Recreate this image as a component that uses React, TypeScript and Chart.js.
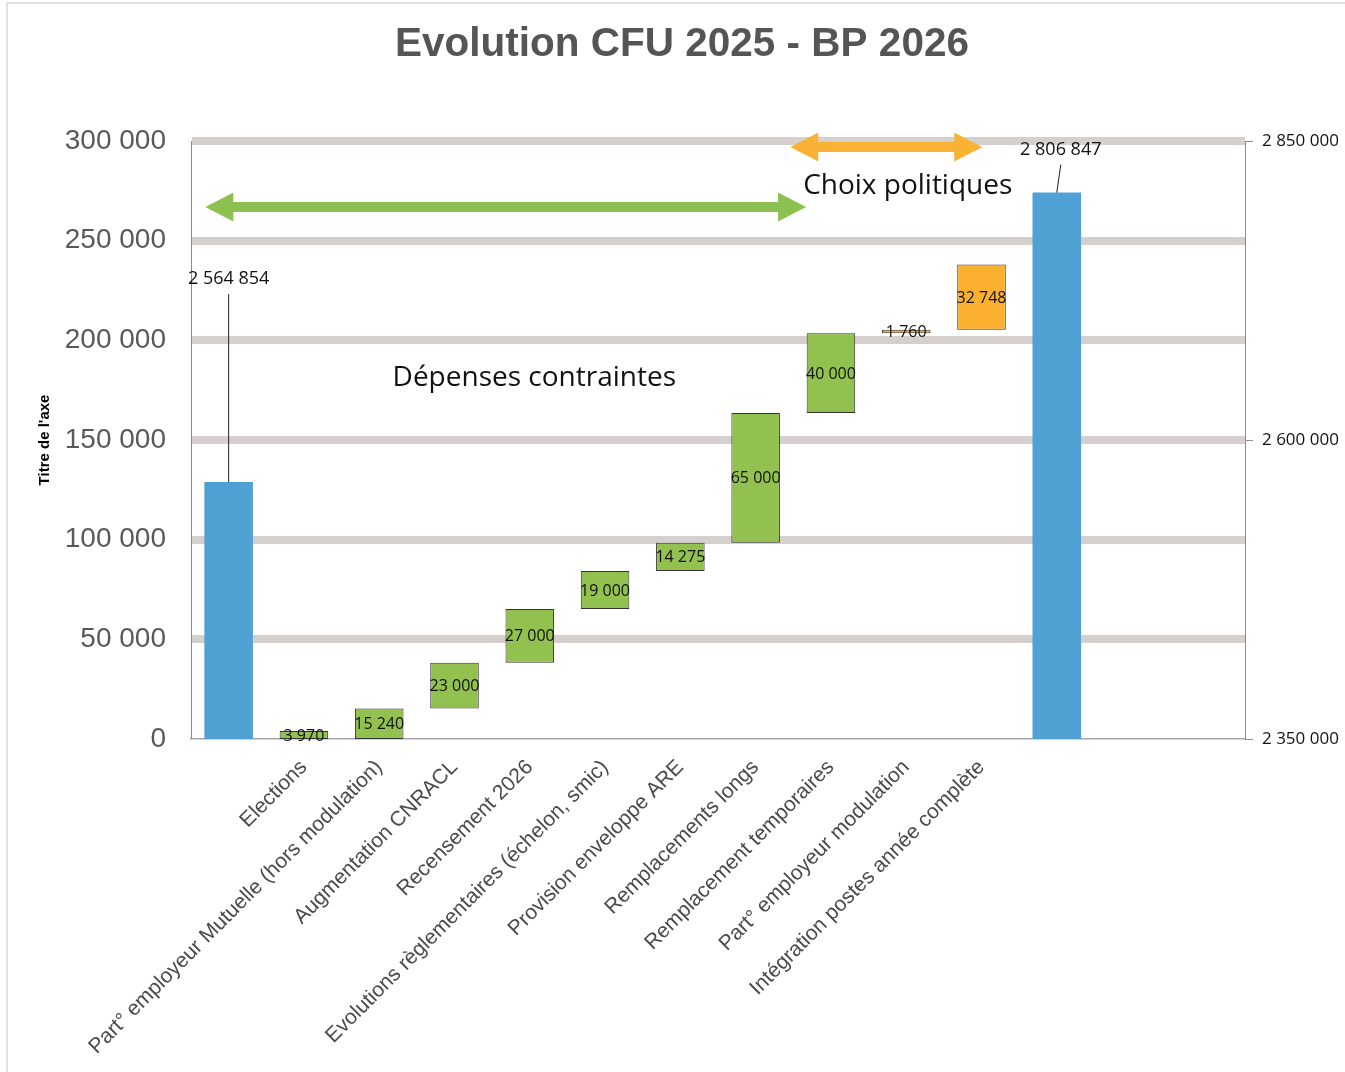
import React, { useEffect, useRef } from 'react';
import { Chart, registerables } from 'chart.js';

Chart.register(...registerables);

const chartTitle = 'Evolution CFU 2025 - BP 2026';
const axisTitle = "Titre de l'axe";

const categories = [
  '',
  'Elections',
  'Part° employeur Mutuelle (hors modulation)',
  'Augmentation CNRACL',
  'Recensement 2026',
  'Evolutions règlementaires (échelon, smic)',
  'Provision enveloppe ARE',
  'Remplacements longs',
  'Remplacement temporaires',
  'Part° employeur modulation',
  'Intégration postes année complète',
  '',
  '',
  '',
];

// Totals (blue bars, right axis)
const totalIndices = [0, 11];
const totalValues = [2564854, 2806847];

// Steps (floating bars, left axis)
const stepFirstIndex = 1;
const stepValues = [3970, 15240, 23000, 27000, 19000, 14275, 65000, 40000, 1760, 32748];
const stepInRunningTotal = [false, true, true, true, true, true, true, true, true, true];
const stepGroups = ['contraintes', 'contraintes', 'contraintes', 'contraintes', 'contraintes', 'contraintes', 'contraintes', 'contraintes', 'choix', 'choix'];

const leftMin = 0;
const leftMax = 300000;
const leftStep = 50000;
const rightMin = 2350000;
const rightMax = 2850000;
const rightStep = 250000;

const annotationTexts = ['Dépenses contraintes', 'Choix politiques'];

const COLORS = {
  blue: '#4FA0D3',
  green: '#92C150',
  orange: '#FBB12F',
  arrowGreen: '#8CC152',
  arrowOrange: '#F9B233',
  grid: '#D5D0CD',
  axis: '#A6A6A6',
  text: '#595959',
};

const fmt = (n: number) => String(Math.round(n)).replace(/\B(?=(\d{3})+(?!\d))/g, ' ');

function buildTotals() {
  const arr: (number | null)[] = categories.map(() => null);
  totalIndices.forEach((idx, i) => {
    arr[idx] = totalValues[i];
  });
  return arr;
}

function buildSteps() {
  const arr: ([number, number] | null)[] = categories.map(() => null);
  let running = 0;
  stepValues.forEach((v, i) => {
    const start = stepInRunningTotal[i] ? running : 0;
    arr[stepFirstIndex + i] = [start, start + v];
    if (stepInRunningTotal[i]) running += v;
  });
  return arr;
}

function drawDoubleArrow(ctx: CanvasRenderingContext2D, x1: number, x2: number, y: number, color: string) {
  const shaft = 5;
  const headLen = 28;
  const headHalf = 14.5;
  ctx.save();
  ctx.fillStyle = color;
  ctx.beginPath();
  ctx.moveTo(x1, y);
  ctx.lineTo(x1 + headLen, y - headHalf);
  ctx.lineTo(x1 + headLen, y - shaft);
  ctx.lineTo(x2 - headLen, y - shaft);
  ctx.lineTo(x2 - headLen, y - headHalf);
  ctx.lineTo(x2, y);
  ctx.lineTo(x2 - headLen, y + headHalf);
  ctx.lineTo(x2 - headLen, y + shaft);
  ctx.lineTo(x1 + headLen, y + shaft);
  ctx.lineTo(x1 + headLen, y + headHalf);
  ctx.closePath();
  ctx.fill();
  ctx.restore();
}

const overlayPlugin = {
  id: 'overlay',
  beforeDraw(chart: any) {
    const { ctx, width, height } = chart;
    ctx.save();
    ctx.fillStyle = '#ffffff';
    ctx.fillRect(0, 0, width, height);
    ctx.strokeStyle = '#E2E2E2';
    ctx.lineWidth = 2;
    ctx.beginPath();
    ctx.moveTo(7, height);
    ctx.lineTo(7, 3);
    ctx.lineTo(width, 3);
    ctx.stroke();
    ctx.restore();
  },
  afterDatasetsDraw(chart: any) {
    const { ctx } = chart;
    const xs = chart.scales.x;
    const ys = chart.scales.y;

    // Step labels
    const stepMeta = chart.getDatasetMeta(1);
    ctx.save();
    ctx.font = '16px "Open Sans"';
    ctx.fillStyle = '#111111';
    ctx.textAlign = 'center';
    ctx.textBaseline = 'middle';
    stepValues.forEach((v, i) => {
      const el = stepMeta.data[stepFirstIndex + i];
      if (!el) return;
      const cy = (el.y + el.base) / 2;
      ctx.fillText(fmt(v), el.x, cy + 1);
    });
    ctx.restore();

    // Total labels with leader lines
    const totMeta = chart.getDatasetMeta(0);
    const labelLift = [203, 43];
    const labelShift = [0, 4];
    ctx.save();
    ctx.font = '18px "Open Sans"';
    ctx.fillStyle = '#111111';
    ctx.textAlign = 'center';
    ctx.textBaseline = 'middle';
    ctx.strokeStyle = '#222222';
    ctx.lineWidth = 1;
    totalIndices.forEach((idx, i) => {
      const el = totMeta.data[idx];
      if (!el) return;
      const lx = el.x + labelShift[i];
      const ly = el.y - labelLift[i];
      ctx.fillText(fmt(totalValues[i]), lx, ly);
      ctx.beginPath();
      ctx.moveTo(lx, ly + 15);
      ctx.lineTo(el.x, el.y);
      ctx.stroke();
    });
    ctx.restore();

    // Arrows
    drawDoubleArrow(ctx, xs.getPixelForValue(-0.31), xs.getPixelForValue(7.67), ys.getPixelForValue(266900), COLORS.arrowGreen);
    drawDoubleArrow(ctx, xs.getPixelForValue(7.46), xs.getPixelForValue(10.01), ys.getPixelForValue(297000), COLORS.arrowOrange);

    // Annotation texts
    ctx.save();
    ctx.font = '28px "Open Sans"';
    ctx.fillStyle = '#111111';
    ctx.textAlign = 'center';
    ctx.textBaseline = 'middle';
    ctx.fillText(annotationTexts[0], xs.getPixelForValue(4.06), ys.getPixelForValue(181100));
    ctx.fillText(annotationTexts[1], xs.getPixelForValue(9.02), ys.getPixelForValue(277400));
    ctx.restore();

    // Title
    ctx.save();
    ctx.font = 'bold 40.5px "Liberation Sans", Arial, sans-serif';
    ctx.fillStyle = '#555555';
    ctx.textAlign = 'center';
    ctx.textBaseline = 'alphabetic';
    ctx.fillText(chartTitle, 682, 56);
    ctx.restore();
  },
};

export default function App() {
  const canvasRef = useRef<HTMLCanvasElement | null>(null);

  useEffect(() => {
    if (!canvasRef.current) return;
    const stepColors = categories.map((_, idx) => {
      const i = idx - stepFirstIndex;
      if (i < 0 || i >= stepGroups.length) return COLORS.green;
      return stepGroups[i] === 'choix' ? COLORS.orange : COLORS.green;
    });

    const chart = new Chart(canvasRef.current, {
      type: 'bar',
      data: {
        labels: categories,
        datasets: [
          {
            label: 'Totaux',
            data: buildTotals() as any,
            yAxisID: 'y1',
            backgroundColor: COLORS.blue,
            borderWidth: 0,
            grouped: false,
            barPercentage: 0.645,
            categoryPercentage: 1,
          } as any,
          {
            label: 'Variations',
            data: buildSteps() as any,
            yAxisID: 'y',
            backgroundColor: stepColors,
            borderColor: '#333333',
            borderWidth: 1,
            borderSkipped: false,
            grouped: false,
            barPercentage: 0.645,
            categoryPercentage: 1,
          } as any,
        ],
      },
      plugins: [overlayPlugin],
      options: {
        responsive: false,
        animation: false,
        events: [],
        layout: { padding: { top: 141, left: 0, right: 0, bottom: 0 } },
        plugins: {
          legend: { display: false },
          tooltip: { enabled: false },
          title: { display: false },
        },
        scales: {
          x: {
            grid: { display: false },
            border: { display: true, color: COLORS.axis, width: 1.5 },
            ticks: {
              autoSkip: false,
              minRotation: 45,
              maxRotation: 45,
              padding: 8,
              color: '#4A4A4A',
              font: { family: '"Liberation Sans", Arial, sans-serif', size: 21 },
            },
            afterFit: (scale: any) => {
              scale.height = 333;
            },
          },
          y: {
            position: 'left',
            min: leftMin,
            max: leftMax,
            ticks: {
              stepSize: leftStep,
              padding: 25,
              color: COLORS.text,
              font: { family: '"Liberation Sans", Arial, sans-serif', size: 28 },
              callback: (v: any) => fmt(Number(v)),
            },
            grid: {
              drawTicks: false,
              color: COLORS.grid,
              lineWidth: (c: any) => (c.tick && c.tick.value === 0 ? 0 : 8),
            },
            border: { display: true, color: '#8C8C8C', width: 1 },
            title: {
              display: true,
              text: axisTitle,
              color: '#000000',
              font: { family: '"Liberation Sans", Arial, sans-serif', size: 15, weight: 'bold' },
              padding: { top: 36, bottom: 0 },
            },
            afterFit: (scale: any) => {
              scale.width = 191;
            },
          },
          y1: {
            position: 'right',
            min: rightMin,
            max: rightMax,
            ticks: {
              stepSize: rightStep,
              padding: 9,
              color: '#111111',
              font: { family: '"Open Sans", sans-serif', size: 17 },
              callback: (v: any) => fmt(Number(v)),
            },
            grid: {
              drawOnChartArea: false,
              drawTicks: true,
              tickLength: 8,
              color: '#8C8C8C',
            },
            border: { display: true, color: '#8C8C8C', width: 1 },
            afterFit: (scale: any) => {
              scale.width = 100;
            },
          },
        },
      } as any,
    });
    return () => chart.destroy();
  }, []);

  return (
    <div style={{ position: 'absolute', left: 0, top: 0, width: 1345, height: 1072, background: '#fff' }}>
      <canvas ref={canvasRef} width={1345} height={1072} style={{ display: 'block', width: 1345, height: 1072 }} />
    </div>
  );
}
